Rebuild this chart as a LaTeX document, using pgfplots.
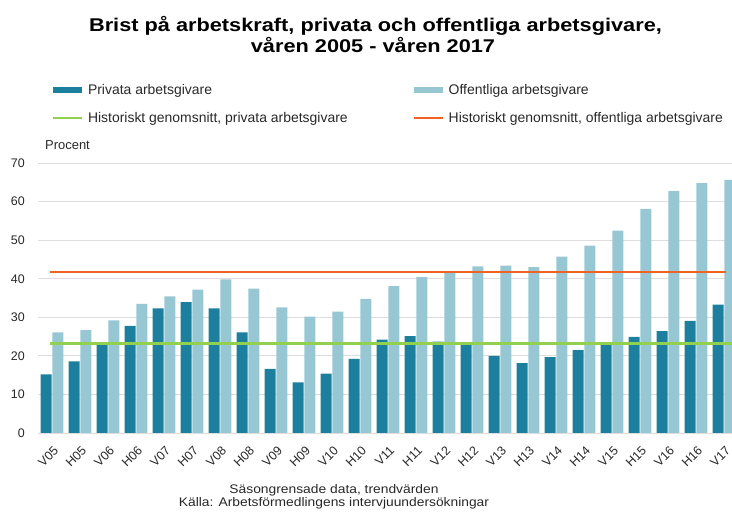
\documentclass[border=0pt]{standalone}
\usepackage{pgfplots}
\pgfplotsset{compat=1.18}
\usepackage{pgfplotstable}
\usepackage{fontspec}
\setmainfont{Liberation Sans}
\definecolor{priv}{RGB}{27,127,157}
\definecolor{off}{RGB}{152,199,212}
\definecolor{gline}{RGB}{146,208,80}
\definecolor{oline}{RGB}{240,98,36}
\definecolor{gridc}{RGB}{222,222,222}
\definecolor{txt}{RGB}{40,40,40}

\pgfplotstableread{
x priv off
0 15.2 26.1
1 18.6 26.7
2 23.0 29.2
3 27.8 33.5
4 32.3 35.4
5 33.9 37.2
6 32.3 39.8
7 26.1 37.4
8 16.6 32.6
9 13.1 30.2
10 15.4 31.5
11 19.2 34.8
12 24.2 38.1
13 25.1 40.4
14 23.7 41.5
15 23.0 43.2
16 20.0 43.4
17 18.1 43.0
18 19.7 45.7
19 21.5 48.6
20 23.0 52.5
21 24.9 58.1
22 26.4 62.7
23 29.1 64.8
24 33.3 65.6
}\datatable

\begin{document}
\begin{tikzpicture}
\path[use as bounding box] (0,0) rectangle (732bp,513bp);
\begin{axis}[
  at={(38bp,80bp)}, anchor=south west,
  scale only axis, width=694bp, height=270bp,
  xmin=-0.5, xmax=24.286, ymin=0, ymax=70,
  ytick={0,10,...,70},
  xtick={0,...,24},
  xticklabels={V05,H05,V06,H06,V07,H07,V08,H08,V09,H09,V10,H10,V11,H11,V12,H12,V13,H13,V14,H14,V15,H15,V16,H16,V17},
  axis line style={draw=none},
  major tick length=0pt,
  ymajorgrids, grid style={gridc, line width=0.9bp},
  /pgf/number format/assume math mode=true,
  yticklabel style={font=\fontsize{12.5}{14}\selectfont, text=txt, anchor=east, inner sep=0pt, xshift=-13bp},
  xticklabel style={font=\fontsize{12.5}{14}\selectfont, text=txt, rotate=45, anchor=east, inner sep=0pt, xshift=-8bp, yshift=-14bp},
  legend columns=2,
  legend cell align=left,
  legend style={at={(0.0202,1.30)}, anchor=north west, draw=none, fill=none,
    font=\fontsize{14}{16}\selectfont, text=txt, inner sep=0pt, outer sep=0pt,
    row sep=13bp,
    /tikz/every odd column/.append style={column sep=3bp},
    /tikz/every even column/.append style={column sep=63bp}},
]
\addplot[ybar, bar width=11bp, bar shift=-5.8bp, fill=priv, draw=none,
  legend image code/.code={\fill[priv] (0bp,-3.2bp) rectangle (29bp,3.2bp);}]
  table[x=x, y=priv] {\datatable};
\addlegendentry{Privata arbetsgivare}
\addplot[ybar, bar width=11bp, bar shift=5.8bp, fill=off, draw=none,
  legend image code/.code={\fill[off] (0bp,-3.2bp) rectangle (29bp,3.2bp);}]
  table[x=x, y=off] {\datatable};
\addlegendentry{Offentliga arbetsgivare}
\addplot[gline, line width=2.6bp,
  legend image code/.code={\draw[gline, line width=2bp] (0bp,0bp) -- (29bp,0bp);}]
  coordinates {(-0.07,23.2) (24.3,23.2)};
\addlegendentry{Historiskt genomsnitt, privata arbetsgivare}
\addplot[oline, line width=2.6bp,
  legend image code/.code={\draw[oline, line width=2bp] (0bp,0bp) -- (29bp,0bp);}]
  coordinates {(-0.07,41.7) (24.06,41.7)};
\addlegendentry{Historiskt genomsnitt, offentliga arbetsgivare}
\end{axis}
\node[anchor=base, xscale=1.18, transform shape, font=\bfseries\fontsize{18.5}{20}\selectfont] at (375.5bp,481bp) {Brist på arbetskraft, privata och offentliga arbetsgivare,};
\node[anchor=base, xscale=1.18, transform shape, font=\bfseries\fontsize{18.5}{20}\selectfont] at (373bp,460bp) {våren 2005 - våren 2017};
\node[anchor=base west, inner sep=0pt, font=\fontsize{13}{15}\selectfont, text=txt] at (45bp,363.5bp) {Procent};
\node[anchor=base, inner sep=0pt, xscale=1.11, transform shape, font=\fontsize{12.5}{14}\selectfont, text=txt] at (334bp,20bp) {Säsongrensade data, trendvärden};
\node[anchor=base, inner sep=0pt, xscale=1.11, transform shape, font=\fontsize{12.5}{14}\selectfont, text=txt] at (334bp,7bp) {Källa: Arbetsförmedlingens intervjuundersökningar};
\end{tikzpicture}
\end{document}
